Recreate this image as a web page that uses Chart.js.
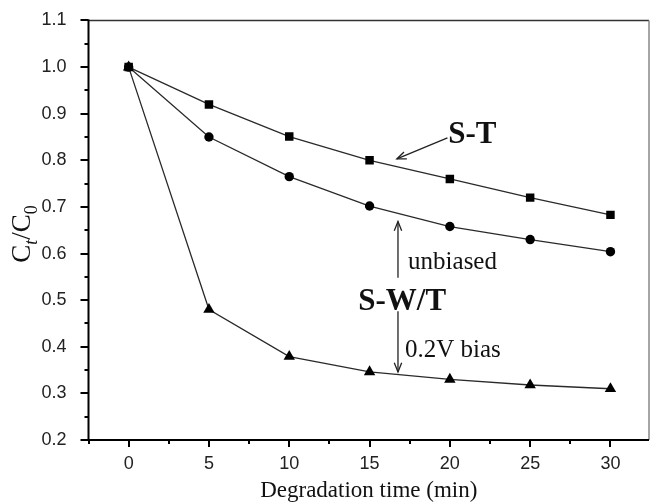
<!DOCTYPE html>
<html>
<head>
<title>Ct/C0 vs degradation time</title>
<script src="https://cdn.jsdelivr.net/npm/chart.js"></script>
<style>
  body { margin: 0; background: #fff; }
  #wrap { width: 651px; height: 502px; }
</style>
</head>
<body>
<div id="wrap"><canvas id="chart"></canvas></div>
<script>
// values
const times = [0, 5, 10, 15, 20, 25, 30];
const sT = [1.0, 0.920, 0.851, 0.800, 0.760, 0.720, 0.683];
const sWTunbiased = [1.0, 0.850, 0.765, 0.702, 0.658, 0.630, 0.604];
const sWTbias = [1.0, 0.480, 0.379, 0.346, 0.330, 0.318, 0.310];
const xTicks = [0, 5, 10, 15, 20, 25, 30];
const yTicks = [0.2, 0.3, 0.4, 0.5, 0.6, 0.7, 0.8, 0.9, 1.0, 1.1];

const serif = '"Liberation Serif", "Times New Roman", serif';
const sans = '"Liberation Sans", Arial, sans-serif';

function pts(ys) {
  return times.map((t, i) => ({ x: t, y: ys[i] }));
}

function series(label, ys, style, r) {
  return {
    label: label,
    data: pts(ys),
    borderColor: '#2a2a2a',
    borderWidth: 1.3,
    backgroundColor: '#000',
    pointBackgroundColor: '#000',
    pointBorderColor: '#000',
    pointBorderWidth: 0,
    pointStyle: style,
    pointRadius: r,
    pointHoverRadius: r,
    tension: 0
  };
}

// annotation positions in data units
const notes = [
  { text: 'S-T', x: 19.9, y: 0.837, bold: true },
  { text: 'S-W/T', x: 14.3, y: 0.479, bold: true },
  { text: 'unbiased', x: 17.4, y: 0.567, bold: false },
  { text: '0.2V bias', x: 17.2, y: 0.378, bold: false }
];
const arrows = [
  { x1: 19.85, y1: 0.848, x2: 16.7, y2: 0.803 },
  { x1: 16.77, y1: 0.548, x2: 16.77, y2: 0.669 },
  { x1: 16.77, y1: 0.476, x2: 16.77, y2: 0.346 }
];

function arrowHead(ctx, x1, y1, x2, y2) {
  const a = Math.atan2(y2 - y1, x2 - x1);
  const len = 10, spread = 0.38;
  ctx.beginPath();
  ctx.moveTo(x2 - len * Math.cos(a - spread), y2 - len * Math.sin(a - spread));
  ctx.lineTo(x2, y2);
  ctx.lineTo(x2 - len * Math.cos(a + spread), y2 - len * Math.sin(a + spread));
  ctx.stroke();
}

// pin the plot box where the figure has it
const box = { left: 88.5, top: 20.5, right: 649, bottom: 440 };
const pinArea = {
  id: 'pinArea',
  afterLayout(chart) {
    const a = chart.chartArea;
    Object.assign(a, box);
    a.width = box.right - box.left;
    a.height = box.bottom - box.top;
    const xs = chart.scales.x, ys = chart.scales.y;
    xs.left = box.left; xs.right = box.right; xs.width = a.width;
    ys.top = box.top; ys.bottom = box.bottom; ys.height = a.height;
    xs.configure();
    ys.configure();
  }
};

const frame = {
  id: 'frame',
  afterDraw(chart) {
    const ctx = chart.ctx;
    const a = chart.chartArea;
    const xs = chart.scales.x, ys = chart.scales.y;
    ctx.save();
    // box
    ctx.lineWidth = 1.5;
    ctx.strokeStyle = '#333';
    ctx.beginPath();
    ctx.moveTo(a.left, a.top); ctx.lineTo(a.right, a.top);
    ctx.stroke();
    ctx.strokeStyle = '#888';
    ctx.beginPath();
    ctx.moveTo(a.right, a.top); ctx.lineTo(a.right, a.bottom);
    ctx.stroke();
    ctx.lineWidth = 2;
    ctx.strokeStyle = '#000';
    ctx.beginPath();
    ctx.moveTo(a.left, a.top - 1); ctx.lineTo(a.left, a.bottom);
    ctx.lineTo(a.right, a.bottom);
    ctx.stroke();

    // ticks
    ctx.lineWidth = 2;
    ctx.beginPath();
    for (let v = -2.5; v <= xs.max + 0.01; v += 2.5) {
      const px = Math.round(xs.getPixelForValue(v));
      const major = Math.abs(v % 5) < 0.01;
      ctx.moveTo(px, a.bottom);
      ctx.lineTo(px, a.bottom + (major ? 7 : 4));
    }
    for (let v = 0.2; v <= 1.1001; v += 0.05) {
      const py = Math.round(ys.getPixelForValue(v));
      const major = Math.abs(Math.round(v * 20) % 2) === 0;
      ctx.moveTo(a.left, py);
      ctx.lineTo(a.left - (major ? 8 : 4), py);
    }
    ctx.stroke();

    // annotations
    ctx.fillStyle = '#111';
    ctx.textBaseline = 'alphabetic';
    ctx.textAlign = 'left';
    notes.forEach(n => {
      ctx.font = (n.bold ? 'bold 31px ' : '25px ') + serif;
      ctx.fillText(n.text, xs.getPixelForValue(n.x), ys.getPixelForValue(n.y));
    });
    ctx.strokeStyle = '#222';
    ctx.lineWidth = 1.3;
    arrows.forEach(r => {
      const x1 = xs.getPixelForValue(r.x1), y1 = ys.getPixelForValue(r.y1);
      const x2 = xs.getPixelForValue(r.x2), y2 = ys.getPixelForValue(r.y2);
      ctx.beginPath();
      ctx.moveTo(x1, y1); ctx.lineTo(x2, y2);
      ctx.stroke();
      arrowHead(ctx, x1, y1, x2, y2);
    });

    // axis titles
    ctx.fillStyle = '#111';
    ctx.font = '23px ' + serif;
    ctx.textAlign = 'center';
    ctx.fillText('Degradation time (min)', (a.left + a.right) / 2, 497);

    // C_t / C_0, rotated
    ctx.translate(30, 234);
    ctx.rotate(-Math.PI / 2);
    const parts = [
      { t: 'C', f: '27px ' + serif, dy: 0 },
      { t: 't', f: 'italic 18px ' + serif, dy: 7 },
      { t: '/C', f: '27px ' + serif, dy: 0 },
      { t: '0', f: '18px ' + serif, dy: 7 }
    ];
    let w = 0;
    parts.forEach(p => { ctx.font = p.f; w += ctx.measureText(p.t).width; });
    let cx = -w / 2;
    ctx.textAlign = 'left';
    parts.forEach(p => {
      ctx.font = p.f;
      ctx.fillText(p.t, cx, p.dy);
      cx += ctx.measureText(p.t).width;
    });
    ctx.restore();
  }
};

new Chart(document.getElementById('chart'), {
  type: 'line',
  data: {
    datasets: [
      series('S-T', sT, 'rect', 6),
      series('S-W/T unbiased', sWTunbiased, 'circle', 4.7),
      series('S-W/T 0.2V bias', sWTbias, 'triangle', 6.6)
    ]
  },
  options: {
    responsive: true,
    maintainAspectRatio: false,
    animation: false,
    layout: { padding: { top: 20.5, right: 2, left: 0, bottom: 0 } },
    plugins: { legend: { display: false }, tooltip: { enabled: false } },
    scales: {
      x: {
        type: 'linear',
        min: -2.5,
        max: 32.4,
        afterBuildTicks: s => { s.ticks = xTicks.map(v => ({ value: v })); },
        afterFit: s => { s.height = 62; },
        grid: { display: false },
        border: { display: false },
        ticks: {
          padding: 5,
          maxRotation: 0,
          color: '#222',
          font: { family: sans, size: 18 },
          callback: v => String(v)
        }
      },
      y: {
        type: 'linear',
        min: 0.2,
        max: 1.1,
        afterBuildTicks: s => { s.ticks = yTicks.map(v => ({ value: v })); },
        afterFit: s => { s.width = 88.5; },
        grid: { display: false },
        border: { display: false },
        ticks: {
          padding: 14,
          color: '#222',
          font: { family: sans, size: 18 },
          callback: v => Number(v).toFixed(1)
        }
      }
    }
  },
  plugins: [pinArea, frame]
});
</script>
</body>
</html>
